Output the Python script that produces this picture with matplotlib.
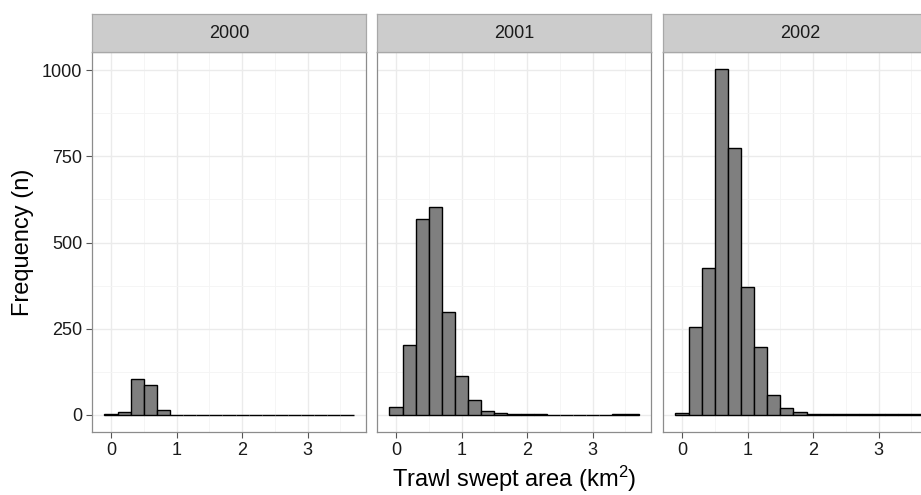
import matplotlib
matplotlib.use("Agg")
import matplotlib.pyplot as plt
from matplotlib.ticker import MultipleLocator

plt.rcParams['font.family'] = ['Liberation Sans', 'DejaVu Sans']
plt.rcParams['mathtext.default'] = 'regular'

# histogram bins (width 0.2 km2), counts per survey year
bin_centers = [0.0, 0.2, 0.4, 0.6, 0.8, 1.0, 1.2, 1.4, 1.6, 1.8,
               2.0, 2.2, 2.4, 2.6, 2.8, 3.0, 3.2, 3.4, 3.6]
bin_width = 0.2
years = ['2000', '2001', '2002']
counts_2000 = [1, 9, 105, 86, 14, 0, 0, 0, 0, 0, 0, 0, 0, 0, 0, 0, 0, 0, 0]
counts_2001 = [24, 202, 568, 603, 297, 113, 42, 11, 5, 2, 2, 2, 0, 0, 0, 0, 0, 1, 1]
counts_2002 = [5, 255, 427, 1003, 775, 371, 196, 58, 21, 7, 3, 2, 1, 1, 1, 1, 2, 1, 1]
all_counts = [counts_2000, counts_2001, counts_2002]

W, H = 921, 495
fig = plt.figure(figsize=(W / 100, H / 100), dpi=100)

border = '#8c8c8c'
grid_c = '#ebebeb'
panel_lefts = [92, 377, 663]
panel_w = 274
panel_top, panel_bot = 52, 432
strip_top = 14

for i, (year, counts) in enumerate(zip(years, all_counts)):
    x0 = panel_lefts[i]
    ax = fig.add_axes([x0 / W, (H - panel_bot) / H, panel_w / W, (panel_bot - panel_top) / H])
    ax.bar(bin_centers, counts, width=bin_width, color='#7f7f7f',
           edgecolor='black', linewidth=1.0, zorder=3)
    ax.set_xlim(-0.29, 3.89)
    ax.set_ylim(-50, 1053)
    ax.xaxis.set_major_locator(MultipleLocator(1))
    ax.xaxis.set_minor_locator(MultipleLocator(0.5))
    ax.yaxis.set_major_locator(MultipleLocator(250))
    ax.yaxis.set_minor_locator(MultipleLocator(125))
    ax.grid(which='major', color=grid_c, linewidth=1.0, zorder=0)
    ax.grid(which='minor', color='#f4f4f4', linewidth=0.6, zorder=0)
    ax.set_axisbelow(True)
    for s in ax.spines.values():
        s.set_color(border)
        s.set_linewidth(0.9)
    ax.tick_params(which='minor', length=0)
    ax.tick_params(which='major', length=4, color='#555555', width=0.8,
                   labelsize=13, labelcolor='#1a1a1a', pad=3)
    if i > 0:
        ax.tick_params(axis='y', which='both', left=False, labelleft=False)
    else:
        ax.set_ylabel('Frequency (n)', fontsize=17, labelpad=6)
    if i == 1:
        ax.set_xlabel('Trawl swept area (km$^2$)', fontsize=17, labelpad=4)

    # facet strip
    sax = fig.add_axes([x0 / W, (H - panel_top) / H, panel_w / W, (panel_top - strip_top) / H])
    sax.set_facecolor('#cccccc')
    sax.set_xticks([])
    sax.set_yticks([])
    for s in sax.spines.values():
        s.set_color('#a8a8a8')
        s.set_linewidth(0.9)
    sax.text(0.5, 0.5, year, ha='center', va='center', fontsize=13,
             color='#1a1a1a', transform=sax.transAxes)

fig.savefig('out.png', dpi=100)
